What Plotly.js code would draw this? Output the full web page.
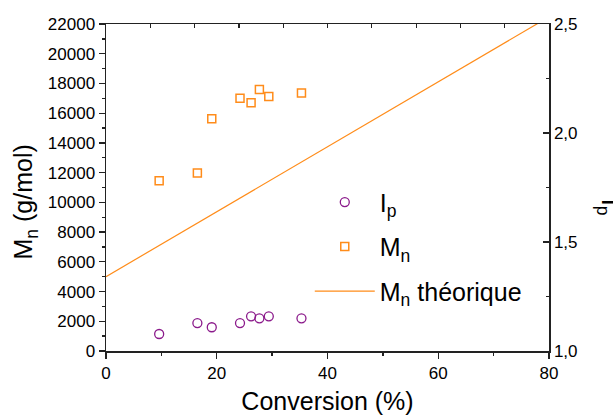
<!DOCTYPE html>
<html>
<head>
<meta charset="utf-8">
<script src="https://cdn.plot.ly/plotly-3.0.1.min.js"></script>
<style>html,body{margin:0;padding:0;background:#fff;}#chart{width:613px;height:415px;}</style>
</head>
<body>
<div id="chart"></div>
<script>
// Data
const conversion = [9.6, 16.5, 19.1, 24.2, 26.2, 27.7, 29.4, 35.3];
const mnValues   = [11450, 11980, 15620, 17000, 16700, 17600, 17130, 17360];
const ipValues   = [1.078, 1.128, 1.109, 1.128, 1.159, 1.150, 1.159, 1.150];
const theoX = [0, 80];
const theoY = [5000, 22480];

const FONT = 'Liberation Sans, Arial, sans-serif';
const ORANGE = '#FF8C1A';
const PURPLE = '#8B1A8B';
const AXC = '#222222';

const traces = [
  {x: conversion, y: ipValues, xaxis: 'x', yaxis: 'y2', type: 'scatter', mode: 'markers',
   name: 'I<sub>p</sub>', legendgroup: 'a',
   marker: {symbol: 'circle-open', size: 9, color: PURPLE, line: {width: 1.3, color: PURPLE}}},
  {x: conversion, y: mnValues, xaxis: 'x', yaxis: 'y', type: 'scatter', mode: 'markers',
   name: 'M<sub>n</sub>', legendgroup: 'b',
   marker: {symbol: 'square-open', size: 8, color: ORANGE, line: {width: 1.5, color: ORANGE}}},
  {x: theoX, y: theoY, xaxis: 'x', yaxis: 'y', type: 'scatter', mode: 'lines',
   name: 'M<sub>n</sub> théorique', legendgroup: 'c',
   line: {color: ORANGE, width: 1.2}},
  {x: [0], y: [0], xaxis: 'x2', yaxis: 'y', type: 'scatter', mode: 'markers',
   marker: {opacity: 0}, showlegend: false, hoverinfo: 'skip'}
];

const layout = {
  width: 613, height: 415,
  margin: {l: 106, r: 64, t: 24, b: 64, pad: 0},
  paper_bgcolor: '#fff', plot_bgcolor: '#fff',
  separators: ',.',
  font: {family: FONT, color: '#000', size: 17},
  showlegend: true,
  legend: {x: 0.46, y: 0.525, xanchor: 'left', yanchor: 'top', bgcolor: 'rgba(0,0,0,0)',
           font: {size: 25, family: FONT}, tracegroupgap: 9, itemwidth: 60},
  xaxis: {range: [0, 80], dtick: 20, tick0: 0, ticks: 'outside', ticklen: 6, tickwidth: 1.3, tickcolor: AXC,
          minor: {dtick: 10, ticks: 'outside', ticklen: 3, tickwidth: 1.3, tickcolor: AXC},
          showline: true, linecolor: AXC, linewidth: 1.5, showgrid: false, zeroline: false,
          tickfont: {size: 17}, title: {text: 'Conversion (%)', font: {size: 25}, standoff: 10}},
  xaxis2: {overlaying: 'x', side: 'top', range: [0, 10], dtick: 1, ticks: 'inside', ticklen: 4,
           tickwidth: 1.2, tickcolor: AXC, showticklabels: false, showline: true, linecolor: AXC,
           linewidth: 1.5, showgrid: false, zeroline: false},
  yaxis: {range: [0, 22000], dtick: 2000, tick0: 0, tickformat: 'd', ticks: 'outside', ticklen: 6,
          tickwidth: 1.3, tickcolor: AXC,
          minor: {dtick: 1000, ticks: 'outside', ticklen: 3, tickwidth: 1.3, tickcolor: AXC},
          showline: true, linecolor: AXC, linewidth: 1.5, showgrid: false, zeroline: false,
          tickfont: {size: 17}},
  yaxis2: {overlaying: 'y', side: 'right', range: [1, 2.5], dtick: 0.5, tick0: 1, tickformat: '.1f',
           ticks: 'inside', ticklen: 6, tickwidth: 1.3, tickcolor: AXC,
           minor: {dtick: 0.25, ticks: 'inside', ticklen: 3, tickwidth: 1.3, tickcolor: AXC},
           showline: true, linecolor: AXC, linewidth: 1.5, showgrid: false, zeroline: false,
           tickfont: {size: 17}},
  annotations: [
    {text: 'M<sub>n</sub> (g/mol)', xref: 'paper', yref: 'paper', x: -0.183, y: 0.457, textangle: -90,
     showarrow: false, font: {size: 25, family: FONT}, xanchor: 'center', yanchor: 'middle'},
    {text: 'I<sub>p</sub>', xref: 'paper', yref: 'paper', x: 1.136, y: 0.44, textangle: 90,
     showarrow: false, font: {size: 25, family: FONT}, xanchor: 'center', yanchor: 'middle'}
  ]
};

Plotly.newPlot('chart', traces, layout, {staticPlot: true, displayModeBar: false});
</script>
</body>
</html>
